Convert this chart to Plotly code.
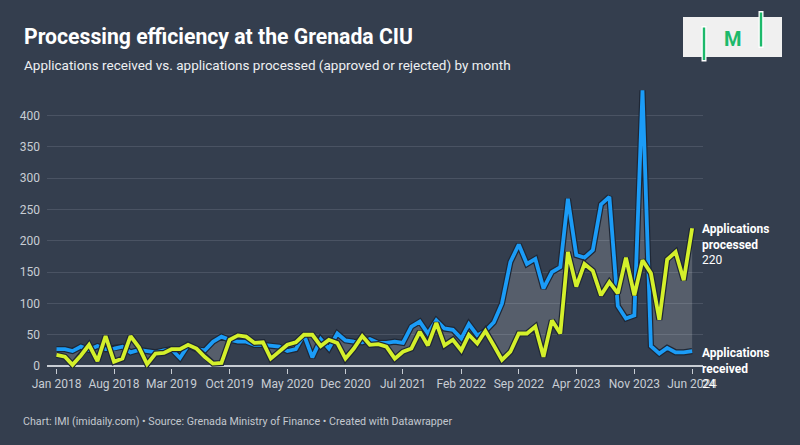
import plotly.graph_objects as go
import pandas as pd

months = pd.date_range("2018-01-01", "2024-06-01", freq="MS")

received = [27, 27, 24, 31, 26, 32, 27, 28, 31, 22,
            26, 24, 22, 25, 27, 13, 33, 27, 25, 39,
            47, 42, 39, 39, 34, 34, 33, 31, 24, 27,
            50, 14, 43, 28, 52, 41, 39, 38, 43, 37,
            37, 39, 37, 63, 71, 52, 73, 60, 58, 44,
            67, 49, 56, 70, 100, 166, 194, 163, 171, 124,
            150, 158, 267, 177, 173, 185, 258, 270, 96, 76,
            81, 440, 32, 20, 29, 22, 22, 24]

processed = [18, 15, 2, 17, 34, 8, 48, 7, 12, 48,
             30, 3, 20, 21, 27, 27, 34, 28, 15, 4,
             5, 42, 49, 47, 37, 38, 12, 23, 34, 38,
             50, 50, 32, 42, 37, 12, 28, 48, 34, 35,
             31, 12, 23, 28, 55, 33, 69, 33, 42, 25,
             50, 36, 56, 33, 10, 23, 52, 52, 63, 15,
             73, 52, 182, 127, 163, 152, 113, 134, 116, 173,
             113, 169, 148, 74, 170, 182, 137, 220]

tick_dates = ["2018-01-01", "2018-08-01", "2019-03-01", "2019-10-01", "2020-05-01",
              "2020-12-01", "2021-07-01", "2022-02-01", "2022-09-01", "2023-04-01",
              "2023-11-01", "2024-06-01"]
tick_labels = ["Jan 2018", "Aug 2018", "Mar 2019", "Oct 2019", "May 2020", "Dec 2020",
               "Jul 2021", "Feb 2022", "Sep 2022", "Apr 2023", "Nov 2023", "Jun 2024"]
y_ticks = [0, 50, 100, 150, 200, 250, 300, 350, 400]

BG = "#343e4e"
BLUE = "#1b9cf7"
GREEN = "#d4f02b"
OUTLINE = "#1f2735"
FONT = "Roboto"

W, H = 800, 445
L, R, T, B = 47, 97, 84, 77
PW = W - L - R
PH = H - T - B


def px(x):
    return (x - L) / PW


def py(y):
    return (H - B - y) / PH


fig = go.Figure()

# fill between the two series
fig.add_trace(go.Scatter(x=months, y=processed, mode="lines", line=dict(width=0),
                         hoverinfo="skip", showlegend=False))
fig.add_trace(go.Scatter(x=months, y=received, mode="lines", line=dict(width=0),
                         fill="tonexty", fillcolor="rgba(255,255,255,0.17)",
                         hoverinfo="skip", showlegend=False))

# received line with halo
fig.add_trace(go.Scatter(x=months, y=received, mode="lines",
                         line=dict(color=OUTLINE, width=6.2),
                         hoverinfo="skip", showlegend=False))
fig.add_trace(go.Scatter(x=months, y=received, mode="lines", name="Applications received",
                         line=dict(color=BLUE, width=3.8), showlegend=False))
# processed line with halo
fig.add_trace(go.Scatter(x=months, y=processed, mode="lines",
                         line=dict(color=OUTLINE, width=6.2),
                         hoverinfo="skip", showlegend=False))
fig.add_trace(go.Scatter(x=months, y=processed, mode="lines", name="Applications processed",
                         line=dict(color=GREEN, width=3.8), showlegend=False))

annotations = [
    dict(text="<b>Processing efficiency at the Grenada CIU</b>", x=px(22), y=py(36),
         xref="paper", yref="paper", xanchor="left", yanchor="middle", showarrow=False,
         font=dict(family=FONT, size=21.2, color="#ffffff")),
    dict(text="Applications received vs. applications processed (approved or rejected) by month",
         x=px(22), y=py(65), xref="paper", yref="paper", xanchor="left", yanchor="middle",
         showarrow=False, font=dict(family=FONT, size=13.5, color="#eef0f2")),
    dict(text="Chart: IMI (imidaily.com) • Source: Grenada Ministry of Finance • Created with Datawrapper",
         x=px(21), y=py(421), xref="paper", yref="paper", xanchor="left", yanchor="middle",
         showarrow=False, font=dict(family=FONT, size=10.7, color="#c3c8cf")),
    dict(text="<b>Applications<br>processed</b><br>%d" % processed[-1], x=months[-1], y=processed[-1],
         xref="x", yref="y", xanchor="left", yanchor="top", xshift=8, yshift=8,
         align="left", showarrow=False, font=dict(family=FONT, size=12, color="#ffffff")),
    dict(text="<b>Applications<br>received</b><br>%d" % received[-1], x=months[-1], y=received[-1],
         xref="x", yref="y", xanchor="left", yanchor="top", xshift=8, yshift=7,
         align="left", showarrow=False, font=dict(family=FONT, size=12, color="#ffffff")),
    dict(text="<b>M</b>", x=px(732.5), y=py(38.5), xref="paper", yref="paper", xanchor="center",
         yanchor="middle", showarrow=False, font=dict(family=FONT, size=20, color="#1db96b")),
]

shapes = [
    dict(type="rect", xref="paper", yref="paper", x0=px(683), x1=px(782), y0=py(17), y1=py(57),
         fillcolor="#f0f0f0", line=dict(width=0), layer="above"),
    dict(type="rect", xref="paper", yref="paper", x0=px(701.5), x1=px(706.5), y0=py(26), y1=py(61.5),
         fillcolor="#ffffff", line=dict(width=0), layer="above"),
    dict(type="rect", xref="paper", yref="paper", x0=px(702.8), x1=px(705.2), y0=py(27.5), y1=py(60),
         fillcolor="#1db96b", line=dict(width=0), layer="above"),
    dict(type="rect", xref="paper", yref="paper", x0=px(758.5), x1=px(763.5), y0=py(11), y1=py(48),
         fillcolor="#ffffff", line=dict(width=0), layer="above"),
    dict(type="rect", xref="paper", yref="paper", x0=px(759.8), x1=px(762.2), y0=py(12.5), y1=py(46.5),
         fillcolor="#1db96b", line=dict(width=0), layer="above"),
]

fig.update_layout(
    width=W, height=H,
    margin=dict(l=L, r=R, t=T, b=B, pad=0),
    paper_bgcolor=BG, plot_bgcolor=BG,
    font=dict(family=FONT, color="#c8cdd4", size=12),
    annotations=annotations, shapes=shapes,
    hovermode=False,
    xaxis=dict(type="date", range=["2017-11-27", "2024-07-11"],
               tickvals=tick_dates, ticktext=tick_labels,
               showgrid=False, zeroline=False, showline=False,
               ticks="outside", ticklen=5, tickwidth=1.2, tickcolor="#c8cdd4",
               tickfont=dict(family=FONT, size=12, color="#c8cdd4")),
    yaxis=dict(range=[-3, 450], tickvals=y_ticks,
               showgrid=True, gridcolor="#4a5363", gridwidth=1,
               zeroline=True, zerolinecolor="#c8cdd4", zerolinewidth=2,
               showline=False, ticks="", ticklabelstandoff=6,
               tickfont=dict(family=FONT, size=12, color="#c8cdd4")),
)

fig.write_html("out.html", config={"displayModeBar": False},
               post_script="document.body.style.margin='0';document.body.style.background='%s';" % BG)
